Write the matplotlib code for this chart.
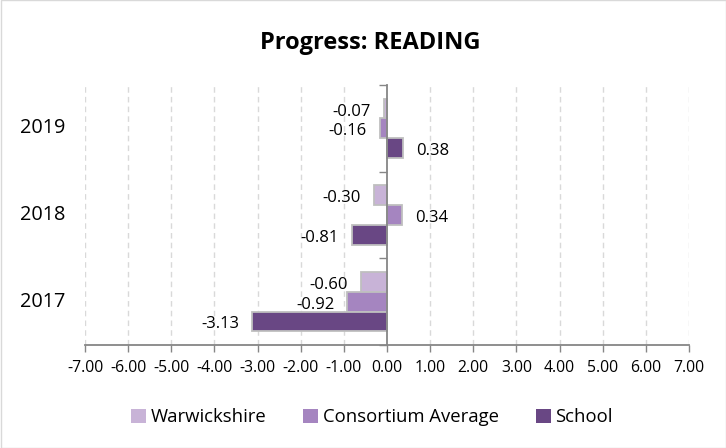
import matplotlib
matplotlib.use("Agg")
import matplotlib.pyplot as plt
import matplotlib.transforms as mtransforms
from matplotlib.patches import Rectangle, Patch
import numpy as np

years = ["2017", "2018", "2019"]
series_names = ["Warwickshire", "Consortium Average", "School"]
warwickshire = [-0.60, -0.30, -0.07]
consortium = [-0.92, 0.34, -0.16]
school = [-3.13, -0.81, 0.38]
xticks = [-7, -6, -5, -4, -3, -2, -1, 0, 1, 2, 3, 4, 5, 6, 7]
colors = ["#C8B3D7", "#A585C0", "#694784"]

plt.rcParams['font.family'] = ['Open Sans', 'DejaVu Sans']
plt.rcParams['axes.unicode_minus'] = False

fig = plt.figure(figsize=(7.26, 4.48), dpi=100)
ax = fig.add_axes([85/726, 1-345/448, (689-85)/726, (345-85)/448])

y = np.arange(len(years))
h = 0.227
offsets = [h, 0, -h]
allvals = [warwickshire, consortium, school]
for vals, off, c, name in zip(allvals, offsets, colors, series_names):
    bars = ax.barh(y + off, vals, height=h, color=c, edgecolor="#BFBFBF",
                   linewidth=1.3, label=name, zorder=3)
    for b, v in zip(bars, vals):
        xo = -13 if v < 0 else 13
        ha = 'right' if v < 0 else 'left'
        ax.annotate(f"{v:.2f}", xy=(v, b.get_y() + b.get_height()/2),
                    xytext=(xo, -3), textcoords='offset pixels',
                    ha=ha, va='center', fontsize=12, color='#000000')

ax.set_xlim(-7, 7)
ax.set_ylim(-0.5, len(years) - 0.5)
ax.set_xticks(xticks)
ax.set_xticklabels([f"{t:.2f}" for t in xticks], fontsize=11.3)
ax.tick_params(axis='x', direction='out', length=5, color='#868686', width=1, pad=6)
for t in xticks:
    if t != 0:
        ax.axvline(t, color='#D9D9D9', linestyle=(0, (4, 3)), linewidth=1, zorder=1)

ax.spines['top'].set_visible(False)
ax.spines['right'].set_visible(False)
ax.spines['bottom'].set_color('#868686')
ax.spines['bottom'].set_linewidth(1.3)
ax.spines['left'].set_position(('data', 0))
ax.spines['left'].set_color('#868686')
ax.spines['left'].set_linewidth(1.3)
ax.spines['left'].set_zorder(4)
boundaries = np.arange(len(years) + 1) - 0.5
ax.set_yticks(boundaries)
ax.set_yticklabels([])
ax.tick_params(axis='y', direction='out', length=6, color='#868686', width=1)

trans = mtransforms.blended_transform_factory(ax.transAxes, ax.transData)
for yi, lab in zip(y, years):
    ax.text(-20/604, yi, lab, transform=trans, ha='right', va='center', fontsize=14.3)

fig.text(370/726, 1-43/448, "Progress: READING", ha='center', va='center',
         fontsize=17, fontweight='bold')

handles = [Patch(facecolor=c, edgecolor='none', label=n) for c, n in zip(colors, series_names)]
fig.legend(handles=handles, loc='center', bbox_to_anchor=(372/726, 1-417/448), ncol=3,
           frameon=False, fontsize=13.3, handlelength=0.8, handleheight=0.8,
           columnspacing=2.0, handletextpad=0.25)

fig.add_artist(Rectangle((0.5/726, 0.5/448), 1-1/726, 1-1/448, transform=fig.transFigure,
                         fill=False, edgecolor='#D9D9D9', linewidth=1))

fig.savefig("out.png", dpi=100)
